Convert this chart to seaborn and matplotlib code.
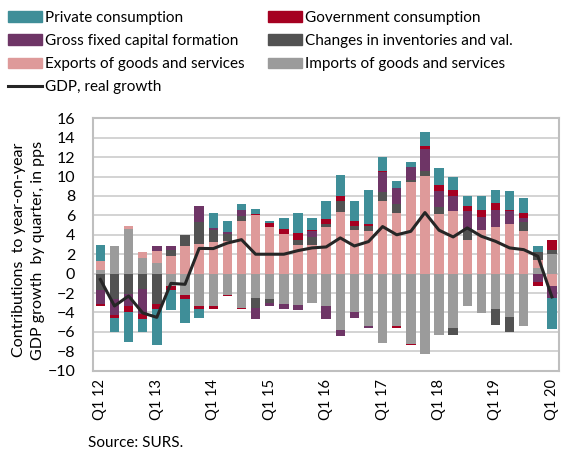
import numpy as np
import pandas as pd
import seaborn as sns
import matplotlib.pyplot as plt
from matplotlib.patches import Patch
from matplotlib.lines import Line2D

# Quarters Q1 2012 .. Q1 2020
quarters = [f"Q{q} {y}" for y in range(12, 21) for q in range(1, 5)][:33]

# Contributions to y-o-y GDP growth, in pps
private = [1.6, -1.5, -3.1, -1.3, -3.7, -2.06, -2.44, -0.86, 1.58, 1.07,
           0.62, 0.45, 0.17, 1.13, 2.1, 1.2, 1.82, 2.1, 2.1, 3.57,
           1.44, 0.72, 0.45, 1.44, 1.79, 1.41, 1.07, 1.51, 1.37, 1.92,
           1.51, 0.65, -3.26]
government = [-0.25, -0.25, -0.6, -0.5, -0.55, -0.45, -0.48, -0.3, -0.3, -0.1,
              -0.1, 0.17, 0.41, 0.55, 0.69, 0.14, 0.58, 0.52, 0.45, 0.17,
              0.14, -0.2, -0.17, 0.31, 0.55, 0.58, 0.55, 0.65, 0.69, 0.17,
              0.55, -0.41, 0.96]
gfcf = [-1.4, -1.7, -1.3, -2.65, 0.55, 0.4, 0.0, 1.65, 0.2, 0.2,
        0.58, -1.17, -0.27, -0.58, -0.52, 0.58, -1.34, -0.69, -0.58, -0.2,
        2.1, 1.62, 1.34, 2.23, 1.68, 1.58, 1.96, 1.34, 1.75, 1.31,
        0.41, -0.86, -1.17]
inventories = [-1.7, -2.6, -2.05, -1.55, -3.1, 0.6, 1.06, 2.34, 1.17, 0.72,
               0.58, -1.0, -0.41, 0.0, 0.58, 0.9, 0.27, 1.2, 0.41, 0.55,
               0.86, 0.93, 0.27, 0.55, 0.72, -0.69, 0.96, 0.0, -1.58, -1.55,
               0.93, 0.76, 0.48]
exports = [0.9, 0.0, 0.35, 0.55, 1.2, 1.86, 2.89, 3.02, 3.3, 3.4,
           5.4, 6.0, 4.8, 4.05, 2.92, 2.9, 4.8, 6.3, 4.54, 4.36,
           7.5, 6.29, 9.4, 10.03, 6.15, 6.43, 3.5, 4.54, 4.85, 5.12,
           4.36, 0.82, -1.3]
imports = [0.4, 2.85, 4.6, 1.65, 1.08, -1.27, -2.16, -3.37, -3.37, -2.2,
           -3.54, -2.5, -2.65, -3.1, -3.26, -3.0, -3.37, -5.77, -4.0, -5.43,
           -7.15, -5.43, -7.2, -8.25, -6.36, -5.64, -3.37, -4.05, -3.68, -4.47,
           -5.43, 0.62, 2.0]
gdp = [-0.6, -3.33, -2.3, -4.05, -4.5, -1.0, -1.1, 2.6, 2.58, 3.15,
       3.5, 2.0, 2.0, 2.0, 2.37, 2.65, 2.75, 3.68, 2.85, 3.3,
       4.85, 4.0, 4.36, 6.29, 4.47, 3.78, 4.71, 3.85, 3.33, 2.65,
       2.47, 1.79, -2.4]

# stacking order (bottom to top) with colours and legend labels
series = [
    ("Imports of goods and services", imports, "#9B9B9B"),
    ("Exports of goods and services", exports, "#DE9A9A"),
    ("Changes in inventories and val.", inventories, "#525252"),
    ("Gross fixed capital formation", gfcf, "#6E3566"),
    ("Government consumption", government, "#A50021"),
    ("Private consumption", private, "#3F8E98"),
]

plt.rcParams["font.family"] = ["Lato", "DejaVu Sans"]
fig = plt.figure(figsize=(5.7, 4.51), dpi=100)
ax = fig.add_axes([0.1637, 0.178, 0.817, 0.5597])

pos_base = np.zeros(len(quarters))
neg_base = np.zeros(len(quarters))
for name, vals, col in series:
    v = np.array(vals, dtype=float)
    bottom = np.where(v >= 0, pos_base, neg_base)
    df = pd.DataFrame({"quarter": quarters, "value": v})
    sns.barplot(data=df, x="quarter", y="value", color=col, saturation=1,
                width=0.67, bottom=bottom, linewidth=0, ax=ax, errorbar=None)
    pos_base = pos_base + np.clip(v, 0, None)
    neg_base = neg_base + np.clip(v, None, 0)

line_df = pd.DataFrame({"pos": np.arange(len(quarters)), "gdp": gdp})
sns.lineplot(data=line_df, x="pos", y="gdp", color="#262626", linewidth=2.2,
             ax=ax, zorder=5)

ax.set_xlim(-0.5, len(quarters) - 0.5)
ax.set_ylim(-10, 16)
ax.set_yticks(range(-10, 17, 2))
ax.set_xticks(range(0, len(quarters), 4))
ax.set_xticklabels([quarters[i] for i in range(0, len(quarters), 4)],
                   rotation=90)
ax.tick_params(axis="y", length=0, labelsize=11.5, pad=13)
ax.tick_params(axis="x", length=0, labelsize=10.5, pad=6)
ax.set_xlabel("")
ax.set_ylabel("Contributions  to year-on-year\nGDP growth  by quarter, in pps",
              fontsize=11.5, linespacing=1.45)
ax.yaxis.set_label_coords(-0.104, 0.478)
ax.grid(axis="y", color="#D0D0D0", linewidth=1.3)
ax.set_axisbelow(True)
for s in ax.spines.values():
    s.set_color("#BFBFBF")
    s.set_linewidth(1.5)

# legend in two separately anchored columns
colors = {name: col for name, _, col in series}
left_items = ["Private consumption", "Gross fixed capital formation",
              "Exports of goods and services"]
right_items = ["Government consumption", "Changes in inventories and val.",
               "Imports of goods and services"]
h_left = [Patch(color=colors[n]) for n in left_items]
h_left.append(Line2D([], [], color="#262626", linewidth=2.2))
leg_kw = dict(frameon=False, fontsize=11, handlelength=2.2, handleheight=0.7,
              handletextpad=0.2, labelspacing=0.6, borderaxespad=0,
              borderpad=0, loc="upper left")
fig.legend(h_left, left_items + ["GDP, real growth"],
           bbox_to_anchor=(8 / 570, 1 - 11 / 451), **leg_kw)
fig.legend([Patch(color=colors[n]) for n in right_items], right_items,
           bbox_to_anchor=(268 / 570, 1 - 11 / 451), **leg_kw)

fig.text(88 / 570, 1 - 447 / 451, "Source: SURS.", fontsize=11)

fig.savefig("out.png", dpi=100)
